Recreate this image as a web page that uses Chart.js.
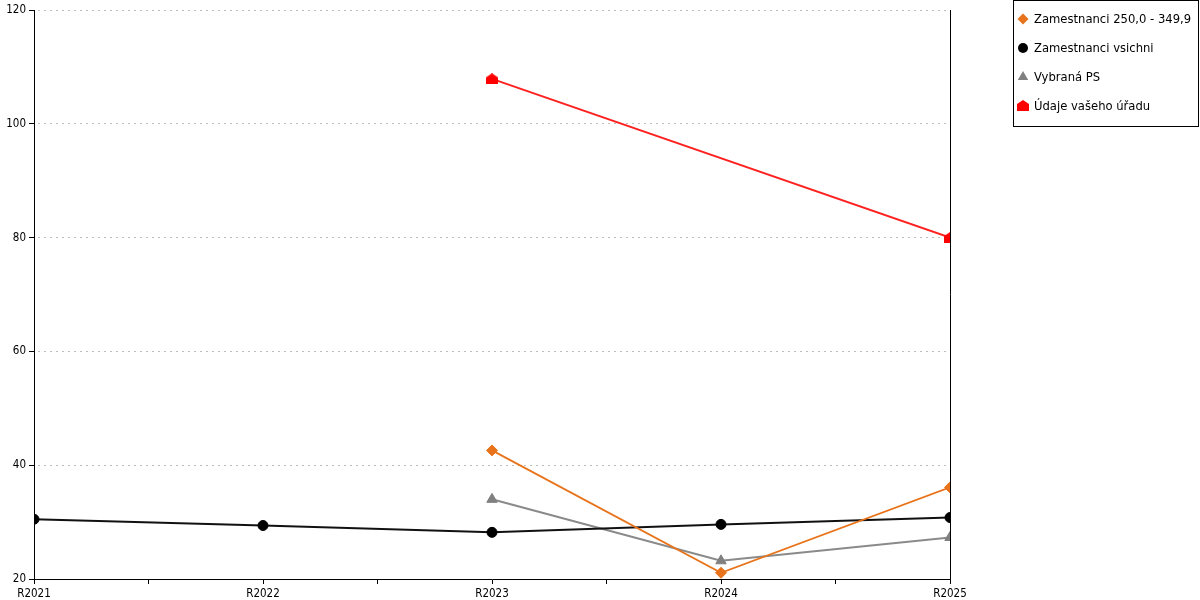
<!DOCTYPE html>
<html>
<head>
<meta charset="utf-8">
<script src="https://cdn.jsdelivr.net/npm/chart.js@4/dist/chart.umd.min.js"></script>
<style>
  html, body { margin: 0; padding: 0; background: #fff; }
  #wrap { width: 1200px; height: 600px; }
</style>
</head>
<body>
<div id="wrap"><canvas id="chart" width="1200" height="600"></canvas></div>
<script>
// data
const categories = ['R2021', 'R2022', 'R2023', 'R2024', 'R2025'];
const zamestnanciRange = [null, null, 42.6, 21.1, 36.1];
const zamestnanciVsichni = [30.5, 29.4, 28.2, 29.6, 30.8];
const vybranaPS = [null, null, 34.0, 23.2, 27.3];
const udajeUradu = [null, null, 107.9, null, 80.0];
const yTicks = [20, 40, 60, 80, 100, 120];

const TICK_FONT = '"DejaVu Sans Condensed", "DejaVu Sans", sans-serif';
const LEGEND_FONT = '"DejaVu Sans", sans-serif';

// red "house" marker
function houseMarker() {
    const c = document.createElement('canvas');
    c.width = 12; c.height = 11;
    const g = c.getContext('2d');
    g.fillStyle = '#ff0000';
    g.beginPath();
    g.moveTo(6, 0);
    g.lineTo(12, 4);
    g.lineTo(12, 11);
    g.lineTo(0, 11);
    g.lineTo(0, 4);
    g.closePath();
    g.fill();
    return c;
}
const house = houseMarker();

const toPoints = arr => arr.map((v, i) => ({ x: i, y: v }));

// right border line, under the markers
const rightLine = {
    id: 'rightLine',
    beforeDatasetsDraw(chart) {
        const { ctx, chartArea } = chart;
        ctx.save();
        ctx.strokeStyle = '#000';
        ctx.lineWidth = 1;
        ctx.beginPath();
        ctx.moveTo(Math.round(chartArea.right) + 0.5, chartArea.top);
        ctx.lineTo(Math.round(chartArea.right) + 0.5, chartArea.bottom);
        ctx.stroke();
        ctx.restore();
    }
};

// boxed legend at the top right
const legendBox = {
    id: 'legendBox',
    afterDraw(chart) {
        const ctx = chart.ctx;
        ctx.save();
        ctx.fillStyle = '#fff';
        ctx.fillRect(1013, 0, 186, 127);
        ctx.strokeStyle = '#000';
        ctx.lineWidth = 1;
        ctx.strokeRect(1013.5, 0.5, 185, 126);
        ctx.font = '11.6px ' + LEGEND_FONT;
        ctx.textBaseline = 'middle';
        chart.data.datasets.forEach((ds, i) => {
            const y = 19 + i * 29;
            ctx.fillStyle = ds.pointBackgroundColor;
            ctx.strokeStyle = ds.pointBackgroundColor;
            if (ds.pointStyle === house) {
                ctx.drawImage(house, 1017, y - 6);
            } else {
                Chart.helpers.drawPoint(ctx, {
                    pointStyle: ds.pointStyle,
                    radius: ds.pointRadius,
                    borderWidth: 0,
                    rotation: 0
                }, 1023, y);
            }
            ctx.fillStyle = '#000';
            ctx.fillText(ds.label, 1034, y + 1);
        });
        ctx.restore();
    }
};

new Chart(document.getElementById('chart'), {
    type: 'line',
    data: {
        datasets: [
            {
                label: 'Zamestnanci 250,0 - 349,9',
                data: toPoints(zamestnanciRange),
                borderColor: '#e8731a',
                backgroundColor: '#e8731a',
                pointBackgroundColor: '#e8731a',
                pointBorderColor: '#e8731a',
                pointStyle: 'rectRot',
                pointRadius: 5.5,
                borderWidth: 1.8,
                pointBorderWidth: 1
            },
            {
                label: 'Zamestnanci vsichni',
                data: toPoints(zamestnanciVsichni),
                borderColor: '#111',
                backgroundColor: '#000',
                pointBackgroundColor: '#000',
                pointBorderColor: '#000',
                pointStyle: 'circle',
                pointRadius: 5,
                borderWidth: 2,
                pointBorderWidth: 1
            },
            {
                label: 'Vybraná PS',
                data: toPoints(vybranaPS),
                borderColor: '#8a8a8a',
                backgroundColor: '#808080',
                pointBackgroundColor: '#808080',
                pointBorderColor: '#808080',
                pointStyle: 'triangle',
                pointRadius: 6,
                borderWidth: 2,
                pointBorderWidth: 1
            },
            {
                label: 'Údaje vašeho úřadu',
                data: toPoints(udajeUradu),
                borderColor: '#ff2020',
                backgroundColor: '#ff0000',
                pointBackgroundColor: '#ff0000',
                pointStyle: house,
                pointRadius: 6,
                borderWidth: 2,
                pointBorderWidth: 0,
                spanGaps: true
            }
        ]
    },
    options: {
        responsive: false,
        animation: false,
        layout: { padding: { top: 10, right: 250, left: 0, bottom: 0 } },
        plugins: {
            legend: { display: false },
            tooltip: { enabled: false }
        },
        scales: {
            x: {
                type: 'linear',
                min: 0,
                max: categories.length - 1,
                afterBuildTicks: scale => {
                    const t = [];
                    for (let v = 0; v <= categories.length - 1; v += 0.5) t.push({ value: v });
                    scale.ticks = t;
                },
                afterFit: scale => { scale.height = 21; },
                ticks: {
                    autoSkip: false,
                    maxRotation: 0,
                    padding: 3,
                    color: '#000',
                    font: { family: TICK_FONT, size: 11.5 },
                    callback: v => Number.isInteger(v) ? categories[v] : ''
                },
                grid: {
                    drawOnChartArea: false,
                    tickLength: 5,
                    color: '#000',
                    tickColor: '#000'
                },
                border: { color: '#000', width: 1 }
            },
            y: {
                min: 20,
                max: 120,
                afterBuildTicks: scale => { scale.ticks = yTicks.map(v => ({ value: v })); },
                afterFit: scale => { scale.width = 34; },
                ticks: {
                    padding: 3,
                    color: '#000',
                    font: { family: TICK_FONT, size: 11.5 }
                },
                grid: {
                    color: ctx => ctx.tick && ctx.tick.value === 20 ? 'rgba(0,0,0,0)' : '#bdbdbd',
                    tickColor: '#000',
                    tickLength: 5
                },
                border: { color: '#000', width: 1, dash: [2, 4], dashOffset: -3 }
            }
        }
    },
    plugins: [rightLine, legendBox]
});
</script>
</body>
</html>
